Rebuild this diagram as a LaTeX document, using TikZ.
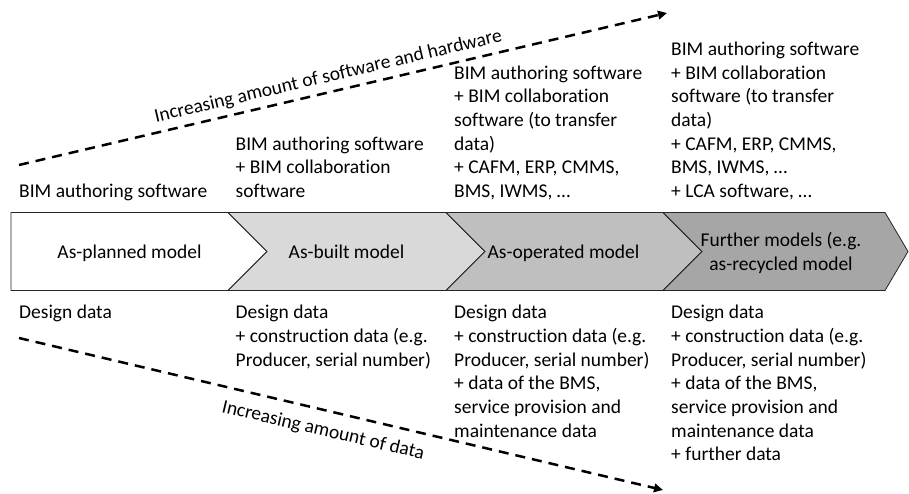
\documentclass[tikz,border=0pt]{standalone}
\usepackage{fontspec}
\setmainfont{Carlito}[Ligatures={NoCommon,NoContextual}]
\usetikzlibrary{arrows.meta}
\definecolor{chevA}{HTML}{FFFFFF}
\definecolor{chevB}{HTML}{D9D9D9}
\definecolor{chevC}{HTML}{BFBFBF}
\definecolor{chevD}{HTML}{A6A6A6}
\tikzset{
  chev/.style={draw=black!85, line width=0.8pt, line join=miter},
  txt/.style={font=\fontsize{19.5}{23.7}\selectfont, align=left, inner sep=0pt, anchor=north west},
  ctxt/.style={font=\fontsize{19.5}{23.7}\selectfont, align=center, inner sep=0pt},
  trend/.style={line width=2.5pt, dash pattern=on 10pt off 7pt, -{Triangle[length=9pt,width=8.5pt]}},
}
\begin{document}
\begin{tikzpicture}[x=1pt,y=1pt]
\useasboundingbox (0,0) rectangle (909,493);
% chevrons
\path[chev, fill=chevA] (11,280.5) -- (228,280.5) -- (267,241.5) -- (228,202.5) -- (11,202.5) -- cycle;
\path[chev, fill=chevB] (228,280.5) -- (446,280.5) -- (485,241.5) -- (446,202.5) -- (228,202.5) -- (267,241.5) -- cycle;
\path[chev, fill=chevC] (446,280.5) -- (663,280.5) -- (702,241.5) -- (663,202.5) -- (446,202.5) -- (485,241.5) -- cycle;
\path[chev, fill=chevD] (663,280.5) -- (885,280.5) -- (908,241.5) -- (885,202.5) -- (663,202.5) -- (702,241.5) -- cycle;
% chevron labels
\node[ctxt, anchor=base] (m1) at (129.5,234.5) {As-planned model};
\node[ctxt, anchor=base] (m2) at (346.5,234.5) {As-built model};
\node[ctxt, anchor=base] (m3) at (563.5,234.5) {As-operated model};
\node[ctxt, anchor=north] (m4) at (781,263.2) {\strut Further models (e.g.\\as-recycled model};
% top texts
\node[txt] (s1) at (19,312.1) {\strut BIM authoring software};
\node[txt] (s2) at (235.5,359.5) {\strut BIM authoring software\\+ BIM collaboration\\software};
\node[txt] (s3) at (454,430.6) {\strut BIM authoring software\\+ BIM collaboration\\software (to transfer\\data)\\+ CAFM, ERP, CMMS,\\BMS, IWMS, …};
\node[txt] (s4) at (671,454.3) {\strut BIM authoring software\\+ BIM collaboration\\software (to transfer\\data)\\+ CAFM, ERP, CMMS,\\BMS, IWMS, …\\+ LCA software, …};
% bottom texts
\node[txt] (d1) at (19,191.1) {\strut Design data};
\node[txt] (d2) at (235.5,191.1) {\strut Design data\\+ construction data (e.g.\\Producer, serial number)};
\node[txt] (d3) at (454,191.1) {\strut Design data\\+ construction data (e.g.\\Producer, serial number)\\+ data of the BMS,\\service provision and\\maintenance data};
\node[txt] (d4) at (671,191.1) {\strut Design data\\+ construction data (e.g.\\Producer, serial number)\\+ data of the BMS,\\service provision and\\maintenance data\\+ further data};
% trend arrows
\coordinate (ts) at (19,328);
\coordinate (te) at (667,480);
\coordinate (bs) at (19,155);
\coordinate (be) at (663,3);
\draw[trend] (ts) -- (te);
\draw[trend] (bs) -- (be);
\node[ctxt, anchor=base, rotate=13.2] (lt) at (329.5,411.2) {Increasing amount of software and hardware};
\node[ctxt, anchor=base, rotate=-13.28] (lb) at (322,57.2) {Increasing amount of data};
\end{tikzpicture}
\end{document}
